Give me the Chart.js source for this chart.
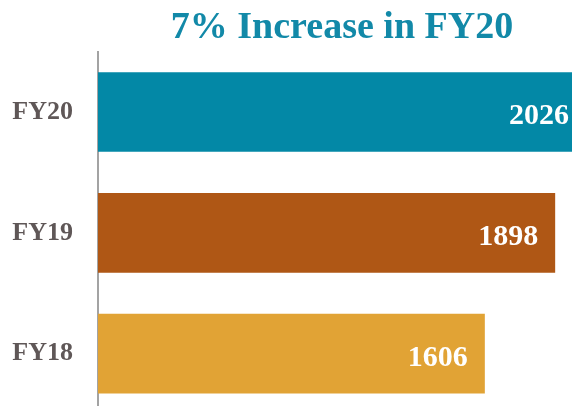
<!DOCTYPE html>
<html>
<head>
<meta charset="utf-8">
<title>7% Increase in FY20</title>
<script src="https://cdn.jsdelivr.net/npm/chart.js@4/dist/chart.umd.min.js"></script>
<style>
  html, body { margin: 0; padding: 0; overflow: hidden; background: #fff; }
  #wrap { width: 572px; height: 406px; overflow: hidden; position: relative; }
  #box { position: absolute; left: 0; top: 0; width: 586px; height: 414px; }
</style>
</head>
<body>
<div id="wrap"><div id="box"><canvas id="chart"></canvas></div></div>
<script>
const years = ['FY20', 'FY19', 'FY18'];
const counts = [2026, 1898, 1606];
const barColors = ['#0388A6', '#AF5715', '#E1A335'];

const SERIF = '"Liberation Serif", "DejaVu Serif", serif';

// white value written inside the end of each bar
const endLabels = {
  id: 'endLabels',
  afterDatasetsDraw(chart) {
    const ctx = chart.ctx;
    const meta = chart.getDatasetMeta(0);
    ctx.save();
    ctx.font = 'bold 30px ' + SERIF;
    ctx.fillStyle = '#ffffff';
    ctx.textAlign = 'right';
    ctx.textBaseline = 'alphabetic';
    meta.data.forEach((bar, i) => {
      ctx.fillText(String(counts[i]), bar.x - 17, bar.y + 12);
    });
    ctx.restore();
  }
};

new Chart(document.getElementById('chart'), {
  type: 'bar',
  data: {
    labels: years,
    datasets: [{
      data: counts,
      backgroundColor: barColors,
      borderWidth: 0,
      categoryPercentage: 1,
      barPercentage: 0.66
    }]
  },
  options: {
    indexAxis: 'y',
    responsive: true,
    maintainAspectRatio: false,
    animation: false,
    layout: { padding: 0 },
    plugins: {
      legend: { display: false },
      tooltip: { enabled: false },
      title: {
        display: true,
        text: '7% Increase in FY20',
        fullSize: false,
        color: '#1289A8',
        font: { family: SERIF, size: 38, weight: 'bold' },
        padding: { top: 5, bottom: 1 }
      }
    },
    scales: {
      x: {
        display: false,
        min: 0,
        max: Math.max(...counts)
      },
      y: {
        grid: { display: false, drawTicks: false },
        border: { display: true, color: '#a3a3a3', width: 2 },
        ticks: {
          color: '#5f5757',
          padding: 25,
          font: { family: SERIF, size: 26, weight: 'bold' }
        },
        afterFit(scale) {
          scale.width = 98;
          scale.paddingTop = 0;
          scale.paddingBottom = 0;
        }
      }
    }
  },
  plugins: [endLabels]
});
</script>
</body>
</html>
